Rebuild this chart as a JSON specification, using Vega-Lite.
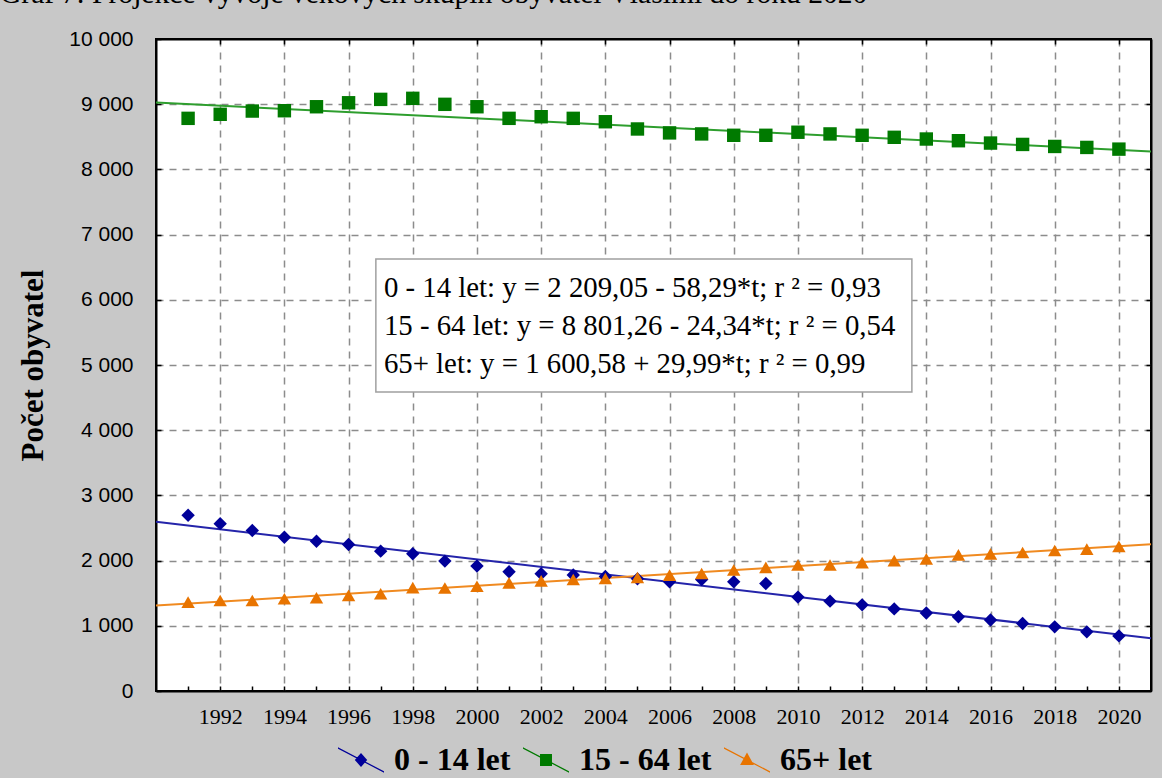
{
  "$schema": "https://vega.github.io/schema/vega-lite/v6.json",
  "width": 995,
  "height": 652,
  "autosize": {"type": "none"},
  "padding": {"left": 156, "top": 39, "right": 11, "bottom": 87},
  "background": "#c8c8c8",
  "title": {
    "text": "Graf 7: Projekce vývoje věkových skupin obyvatel Vlašimi do roku 2020",
    "anchor": "start",
    "frame": "group",
    "dx": -156,
    "dy": 5,
    "offset": 0,
    "font": "Liberation Serif",
    "fontSize": 29.6,
    "fontWeight": "normal",
    "color": "#000000",
    "baseline": "alphabetic"
  },
  "config": {
    "view": {"stroke": "#000000", "strokeWidth": 2, "fill": "#ffffff"},
    "axis": {
      "domainColor": "#000000",
      "domainWidth": 2,
      "tickColor": "#000000",
      "tickWidth": 1.5,
      "gridColor": "#8c8c8c",
      "gridDash": [7, 6],
      "gridWidth": 1.5,
      "labelFlush": false,
      "labelOverlap": false,
      "labelColor": "#000000",
      "titleColor": "#000000"
    }
  },
  "datasets": {
    "trend": [
      {"group": "0 - 14 let", "year": 1990, "value": 2595},
      {"group": "0 - 14 let", "year": 2021, "value": 810},
      {"group": "15 - 64 let", "year": 1990, "value": 9025},
      {"group": "15 - 64 let", "year": 2021, "value": 8275},
      {"group": "65+ let", "year": 1990, "value": 1310},
      {"group": "65+ let", "year": 2021, "value": 2250}
    ],
    "points": [
      {"group": "0 - 14 let", "year": 1991, "value": 2695},
      {"group": "0 - 14 let", "year": 1992, "value": 2567},
      {"group": "0 - 14 let", "year": 1993, "value": 2461},
      {"group": "0 - 14 let", "year": 1994, "value": 2359},
      {"group": "0 - 14 let", "year": 1995, "value": 2298},
      {"group": "0 - 14 let", "year": 1996, "value": 2247},
      {"group": "0 - 14 let", "year": 1997, "value": 2145},
      {"group": "0 - 14 let", "year": 1998, "value": 2104},
      {"group": "0 - 14 let", "year": 1999, "value": 1992},
      {"group": "0 - 14 let", "year": 2000, "value": 1916},
      {"group": "0 - 14 let", "year": 2001, "value": 1830},
      {"group": "0 - 14 let", "year": 2002, "value": 1799},
      {"group": "0 - 14 let", "year": 2003, "value": 1780},
      {"group": "0 - 14 let", "year": 2004, "value": 1755},
      {"group": "0 - 14 let", "year": 2005, "value": 1720},
      {"group": "0 - 14 let", "year": 2006, "value": 1674},
      {"group": "0 - 14 let", "year": 2007, "value": 1710},
      {"group": "0 - 14 let", "year": 2008, "value": 1674},
      {"group": "0 - 14 let", "year": 2009, "value": 1648},
      {"group": "0 - 14 let", "year": 2010, "value": 1440},
      {"group": "0 - 14 let", "year": 2011, "value": 1378},
      {"group": "0 - 14 let", "year": 2012, "value": 1321},
      {"group": "0 - 14 let", "year": 2013, "value": 1259},
      {"group": "0 - 14 let", "year": 2014, "value": 1197},
      {"group": "0 - 14 let", "year": 2015, "value": 1140},
      {"group": "0 - 14 let", "year": 2016, "value": 1088},
      {"group": "0 - 14 let", "year": 2017, "value": 1036},
      {"group": "0 - 14 let", "year": 2018, "value": 984},
      {"group": "0 - 14 let", "year": 2019, "value": 907},
      {"group": "0 - 14 let", "year": 2020, "value": 845},
      {"group": "15 - 64 let", "year": 1991, "value": 8783},
      {"group": "15 - 64 let", "year": 1992, "value": 8845},
      {"group": "15 - 64 let", "year": 1993, "value": 8895},
      {"group": "15 - 64 let", "year": 1994, "value": 8900},
      {"group": "15 - 64 let", "year": 1995, "value": 8961},
      {"group": "15 - 64 let", "year": 1996, "value": 9022},
      {"group": "15 - 64 let", "year": 1997, "value": 9074},
      {"group": "15 - 64 let", "year": 1998, "value": 9090},
      {"group": "15 - 64 let", "year": 1999, "value": 8998},
      {"group": "15 - 64 let", "year": 2000, "value": 8961},
      {"group": "15 - 64 let", "year": 2001, "value": 8783},
      {"group": "15 - 64 let", "year": 2002, "value": 8808},
      {"group": "15 - 64 let", "year": 2003, "value": 8783},
      {"group": "15 - 64 let", "year": 2004, "value": 8731},
      {"group": "15 - 64 let", "year": 2005, "value": 8620},
      {"group": "15 - 64 let", "year": 2006, "value": 8560},
      {"group": "15 - 64 let", "year": 2007, "value": 8544},
      {"group": "15 - 64 let", "year": 2008, "value": 8523},
      {"group": "15 - 64 let", "year": 2009, "value": 8523},
      {"group": "15 - 64 let", "year": 2010, "value": 8570},
      {"group": "15 - 64 let", "year": 2011, "value": 8544},
      {"group": "15 - 64 let", "year": 2012, "value": 8523},
      {"group": "15 - 64 let", "year": 2013, "value": 8492},
      {"group": "15 - 64 let", "year": 2014, "value": 8466},
      {"group": "15 - 64 let", "year": 2015, "value": 8440},
      {"group": "15 - 64 let", "year": 2016, "value": 8404},
      {"group": "15 - 64 let", "year": 2017, "value": 8383},
      {"group": "15 - 64 let", "year": 2018, "value": 8352},
      {"group": "15 - 64 let", "year": 2019, "value": 8337},
      {"group": "15 - 64 let", "year": 2020, "value": 8311},
      {"group": "65+ let", "year": 1991, "value": 1363},
      {"group": "65+ let", "year": 1992, "value": 1389},
      {"group": "65+ let", "year": 1993, "value": 1389},
      {"group": "65+ let", "year": 1994, "value": 1415},
      {"group": "65+ let", "year": 1995, "value": 1430},
      {"group": "65+ let", "year": 1996, "value": 1466},
      {"group": "65+ let", "year": 1997, "value": 1492},
      {"group": "65+ let", "year": 1998, "value": 1585},
      {"group": "65+ let", "year": 1999, "value": 1580},
      {"group": "65+ let", "year": 2000, "value": 1606},
      {"group": "65+ let", "year": 2001, "value": 1658},
      {"group": "65+ let", "year": 2002, "value": 1689},
      {"group": "65+ let", "year": 2003, "value": 1710},
      {"group": "65+ let", "year": 2004, "value": 1725},
      {"group": "65+ let", "year": 2005, "value": 1741},
      {"group": "65+ let", "year": 2006, "value": 1777},
      {"group": "65+ let", "year": 2007, "value": 1803},
      {"group": "65+ let", "year": 2008, "value": 1855},
      {"group": "65+ let", "year": 2009, "value": 1896},
      {"group": "65+ let", "year": 2010, "value": 1933},
      {"group": "65+ let", "year": 2011, "value": 1933},
      {"group": "65+ let", "year": 2012, "value": 1969},
      {"group": "65+ let", "year": 2013, "value": 2000},
      {"group": "65+ let", "year": 2014, "value": 2026},
      {"group": "65+ let", "year": 2015, "value": 2088},
      {"group": "65+ let", "year": 2016, "value": 2104},
      {"group": "65+ let", "year": 2017, "value": 2124},
      {"group": "65+ let", "year": 2018, "value": 2155},
      {"group": "65+ let", "year": 2019, "value": 2176},
      {"group": "65+ let", "year": 2020, "value": 2218}
    ]
  },
  "layer": [
    {
      "data": {"name": "points"},
      "mark": {"type": "point", "filled": true, "opacity": 1, "size": 0},
      "encoding": {
        "x": {
          "field": "year",
          "type": "quantitative",
          "scale": {"domain": [1990, 2021], "nice": false, "zero": false},
          "axis": {
            "orient": "bottom",
            "values": [1991, 1992, 1993, 1994, 1995, 1996, 1997, 1998, 1999, 2000, 2001, 2002, 2003, 2004, 2005, 2006, 2007, 2008, 2009, 2010, 2011, 2012, 2013, 2014, 2015, 2016, 2017, 2018, 2019, 2020],
            "format": "d",
            "labelExpr": "datum.value % 2 === 0 ? datum.label : ''",
            "grid": true,
            "gridColor": {"condition": {"test": "datum.value % 2 === 0", "value": "#8c8c8c"}, "value": "transparent"},
            "tickSize": -5,
            "labelPadding": 20,
            "labelFont": "Liberation Serif",
            "labelFontSize": 22,
            "title": null
          }
        },
        "y": {
          "field": "value",
          "type": "quantitative",
          "scale": {"domain": [0, 10000], "nice": false},
          "axis": {
            "orient": "left",
            "values": [0, 1000, 2000, 3000, 4000, 5000, 6000, 7000, 8000, 9000, 10000],
            "labelExpr": "replace(format(datum.value, ','), ',', ' ')",
            "grid": true,
            "gridColor": {"condition": {"test": "datum.value > 0 && datum.value < 10000", "value": "#8c8c8c"}, "value": "transparent"},
            "tickSize": -5,
            "labelPadding": 28,
            "labelFont": "Liberation Sans",
            "labelFontSize": 21,
            "title": "Počet obyvatel",
            "titleFont": "Liberation Serif",
            "titleFontSize": 31,
            "titleFontWeight": "bold",
            "titlePadding": 19
          }
        },
        "color": {
          "field": "group",
          "type": "nominal",
          "scale": {"domain": ["0 - 14 let", "15 - 64 let", "65+ let"], "range": ["#000099", "#007a00", "#e87400"]},
          "legend": {
            "orient": "none",
            "legendX": 182,
            "legendY": 698,
            "direction": "horizontal",
            "title": null,
            "padding": 0,
            "symbolSize": 2116,
            "symbolStrokeWidth": 0,
            "symbolOpacity": 1,
            "labelFont": "Liberation Serif",
            "labelFontSize": 32,
            "labelFontWeight": "bold",
            "labelColor": "#000000",
            "labelOffset": 10,
            "columnPadding": 12
          }
        },
        "shape": {
          "field": "group",
          "type": "nominal",
          "scale": {
            "domain": ["0 - 14 let", "15 - 64 let", "65+ let"],
            "range": [
              "M-1,-0.55L1,0.49L1,0.55L-1,-0.49ZM0,-0.3L0.27,0L0,0.3L-0.27,0Z",
              "M-1,-0.55L1,0.49L1,0.55L-1,-0.49ZM-0.26,-0.26L0.26,-0.26L0.26,0.26L-0.26,0.26Z",
              "M-1,-0.55L1,0.49L1,0.55L-1,-0.49ZM0,-0.33L0.3,0.22L-0.3,0.22Z"
            ]
          }
        }
      }
    },
    {
      "data": {"name": "trend"},
      "mark": {"type": "line", "strokeWidth": 2},
      "encoding": {
        "x": {
          "field": "year",
          "type": "quantitative",
          "axis": {
            "orient": "top",
            "values": [1992, 1994, 1996, 1998, 2000, 2002, 2004, 2006, 2008, 2010, 2012, 2014, 2016, 2018, 2020],
            "labels": false,
            "grid": false,
            "tickSize": -5,
            "title": null
          }
        },
        "y": {
          "field": "value",
          "type": "quantitative",
          "axis": {
            "orient": "right",
            "values": [1000, 2000, 3000, 4000, 5000, 6000, 7000, 8000, 9000],
            "labels": false,
            "grid": false,
            "tickSize": -5,
            "title": null
          }
        },
        "color": {
          "field": "group",
          "type": "nominal",
          "scale": {"domain": ["0 - 14 let", "15 - 64 let", "65+ let"], "range": ["#2424aa", "#2e9e2e", "#f08a20"]},
          "legend": null
        }
      }
    },
    {
      "data": {"values": [{}]},
      "mark": {"type": "rect", "fill": "#ffffff", "stroke": "#a0a0a0", "strokeWidth": 1.5},
      "encoding": {
        "x": {"datum": 1996.85, "type": "quantitative", "axis": null},
        "x2": {"datum": 2013.55},
        "y": {"datum": 6626, "type": "quantitative", "axis": null},
        "y2": {"datum": 4586}
      }
    },
    {
      "data": {"values": [{}]},
      "mark": {
        "type": "text",
        "text": [
          "0 - 14 let: y = 2 209,05 - 58,29*t; r ² = 0,93",
          "15 - 64 let: y = 8 801,26 - 24,34*t; r ² = 0,54",
          "65+ let: y = 1 600,58 + 29,99*t; r ² = 0,99"
        ],
        "align": "left",
        "baseline": "alphabetic",
        "lineHeight": 38,
        "font": "Liberation Serif",
        "fontSize": 28.8,
        "color": "#000000"
      },
      "encoding": {
        "x": {"datum": 1997.1, "type": "quantitative", "axis": null},
        "y": {"datum": 6043, "type": "quantitative", "axis": null}
      }
    },
    {
      "data": {"name": "points"},
      "mark": {"type": "point", "filled": true, "opacity": 1, "size": 180},
      "encoding": {
        "x": {"field": "year", "type": "quantitative", "axis": null},
        "y": {"field": "value", "type": "quantitative", "axis": null},
        "color": {
          "field": "group",
          "type": "nominal",
          "scale": {"domain": ["0 - 14 let", "15 - 64 let", "65+ let"], "range": ["#000099", "#007a00", "#e87400"]},
          "legend": null
        },
        "shape": {
          "field": "group",
          "type": "nominal",
          "scale": {"domain": ["0 - 14 let", "15 - 64 let", "65+ let"], "range": ["diamond", "square", "triangle-up"]},
          "legend": null
        }
      }
    }
  ],
  "resolve": {
    "axis": {"x": "independent", "y": "independent"},
    "scale": {"color": "independent", "shape": "independent"}
  }
}
